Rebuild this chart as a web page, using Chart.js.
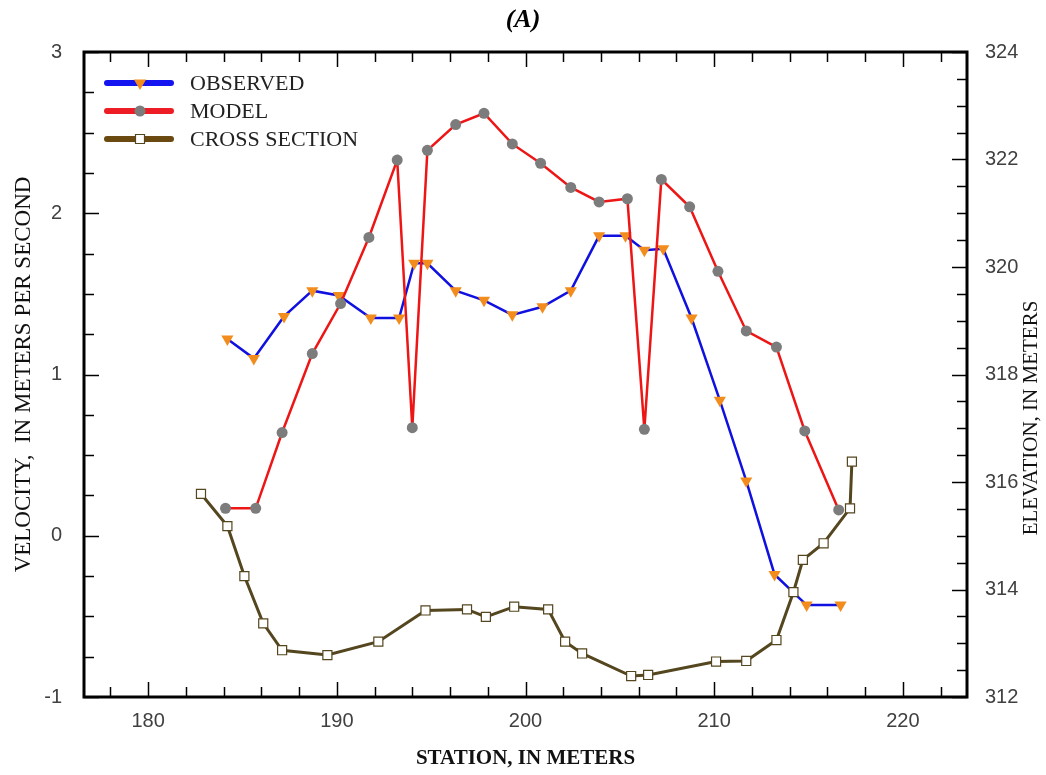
<!DOCTYPE html>
<html>
<head>
<meta charset="utf-8">
<script src="https://cdn.jsdelivr.net/npm/chart.js@4/dist/chart.umd.min.js"></script>
<style>
html, body { margin: 0; background: #fff; }
#box { width: 1046px; height: 775px; }
</style>
</head>
<body>
<div id="box"><canvas id="chartBox"></canvas></div>
<script>
// values
const obsStation = [184.2, 185.6, 187.2, 188.7, 190.1, 191.8, 193.3, 194.1, 194.8, 196.3, 197.8, 199.3, 200.9, 202.4, 203.9, 205.3, 206.3, 207.3, 208.8, 210.3, 211.7, 213.2, 214.9, 216.7]
const obsVelocity = [1.22, 1.10, 1.36, 1.52, 1.49, 1.35, 1.35, 1.69, 1.69, 1.52, 1.46, 1.37, 1.42, 1.52, 1.86, 1.86, 1.77, 1.78, 1.35, 0.84, 0.34, -0.24, -0.43, -0.43]

const modelStation = [184.1, 185.7, 187.1, 188.7, 190.2, 191.7, 193.2, 194.0, 194.8, 196.3, 197.8, 199.3, 200.8, 202.4, 203.9, 205.4, 206.3, 207.2, 208.7, 210.2, 211.7, 213.3, 214.8, 216.6]
const modelVelocity = [0.17, 0.17, 0.64, 1.13, 1.44, 1.85, 2.33, 0.67, 2.39, 2.55, 2.62, 2.43, 2.31, 2.16, 2.07, 2.09, 0.66, 2.21, 2.04, 1.64, 1.27, 1.17, 0.65, 0.16]

const xsStation = [182.8, 184.2, 185.1, 186.1, 187.1, 189.5, 192.2, 194.7, 196.9, 197.9, 199.4, 201.2, 202.1, 203.0, 205.6, 206.5, 210.1, 211.7, 213.3, 214.2, 214.7, 215.8, 217.2, 217.3]
const xsElevation = [315.78, 315.18, 314.25, 313.37, 312.87, 312.78, 313.03, 313.61, 313.63, 313.49, 313.68, 313.63, 313.03, 312.81, 312.39, 312.41, 312.66, 312.67, 313.06, 313.95, 314.55, 314.86, 315.51, 316.38]

const stationTicks = [180, 190, 200, 210, 220]
const velocityTicks = [-1, 0, 1, 2, 3]
const elevationTicks = [312, 314, 316, 318, 320, 322, 324]

const legendNames = ['OBSERVED', 'MODEL', 'CROSS SECTION']
const elevationTitle = 'ELEVATION, IN METERS'

const pairs = (xs, ys) => xs.map((x, i) => ({ x, y: ys[i] }))
const serif = "'Liberation Serif', 'Times New Roman', serif"
const sans = "'Liberation Sans', Arial, sans-serif"

const drawMarker = (ctx, kind, x, y, fill, stroke) => {
    ctx.beginPath()
    if (kind === 'tri') {
        const r = 7
        ctx.moveTo(x - r * 0.87, y - r * 0.5)
        ctx.lineTo(x + r * 0.87, y - r * 0.5)
        ctx.lineTo(x, y + r)
        ctx.closePath()
        ctx.fillStyle = fill
        ctx.fill()
    } else if (kind === 'circle') {
        ctx.arc(x, y, 5.5, 0, Math.PI * 2)
        ctx.fillStyle = fill
        ctx.fill()
    } else {
        ctx.rect(x - 4.5, y - 4.5, 9, 9)
        ctx.fillStyle = fill
        ctx.fill()
        ctx.lineWidth = 1.2
        ctx.strokeStyle = stroke
        ctx.stroke()
    }
}

// frame with inward ticks, legend inside the plot, right axis title
const frame = {
    id: 'frame',
    afterDraw(chart) {
        const { ctx, chartArea: a, scales } = chart
        ctx.save()
        ctx.strokeStyle = '#000'
        ctx.lineWidth = 1.5
        const tick = (x1, y1, x2, y2) => { ctx.beginPath(); ctx.moveTo(x1, y1); ctx.lineTo(x2, y2); ctx.stroke() }

        const sx = scales.x
        for (let v = Math.ceil(sx.min / 2) * 2; v <= sx.max; v += 2) {
            const px = Math.round(sx.getPixelForValue(v)) + 0.5
            const len = v % 10 === 0 ? 15 : 10
            tick(px, a.bottom, px, a.bottom - len)
            tick(px, a.top, px, a.top + len)
        }
        const sy = scales.y
        for (let i = 0; i <= 16; i++) {
            const v = sy.min + i * 0.25
            const py = Math.round(sy.getPixelForValue(v)) + 0.5
            tick(a.left, py, a.left + (i % 4 === 0 ? 15 : 10), py)
        }
        const sy1 = scales.y1
        for (let i = 0; i <= 24; i++) {
            const v = sy1.min + i * 0.5
            const py = Math.round(sy1.getPixelForValue(v)) + 0.5
            tick(a.right, py, a.right - (i % 4 === 0 ? 15 : 10), py)
        }
        ctx.lineWidth = 3
        ctx.strokeRect(a.left, a.top, a.right - a.left, a.bottom - a.top)

        // legend
        const ds = chart.data.datasets
        const kinds = ['tri', 'circle', 'rect']
        const legendLine = ['#1414f0', '#ee1c24', '#6b4a12']
        ds.forEach((d, i) => {
            const y = a.top + 31 + i * 28
            ctx.lineCap = 'round'
            ctx.lineWidth = 6
            ctx.strokeStyle = legendLine[i]
            tick(a.left + 23, y, a.left + 87, y)
            drawMarker(ctx, kinds[i], a.left + 56, y, d.pointBackgroundColor, d.pointBorderColor)
            ctx.fillStyle = '#222'
            ctx.font = '22px ' + serif
            ctx.textBaseline = 'middle'
            ctx.textAlign = 'left'
            ctx.fillText(legendNames[i], a.left + 106, y + 1)
        })

        // right axis title, reading bottom to top like the left one
        ctx.translate(chart.width - 15, a.top + 366)
        ctx.rotate(-Math.PI / 2)
        ctx.fillStyle = '#111'
        ctx.font = '21px ' + serif
        ctx.textAlign = 'center'
        ctx.textBaseline = 'middle'
        ctx.fillText(elevationTitle, 0, 0)
        ctx.restore()
    }
}

const context = document.querySelector('#chartBox').getContext('2d')
const chart = new Chart(context, {
    type: 'line',
    data: {
        datasets: [{
            label: legendNames[0],
            data: pairs(obsStation, obsVelocity),
            yAxisID: 'y',
            borderColor: '#1010e0',
            borderWidth: 2.5,
            pointStyle: 'triangle',
            rotation: 180,
            pointRadius: 7,
            pointBackgroundColor: '#f28c1c',
            pointBorderColor: '#f28c1c',
            pointBorderWidth: 0,
            tension: 0,
            order: 3
        }, {
            label: legendNames[1],
            data: pairs(modelStation, modelVelocity),
            yAxisID: 'y',
            borderColor: '#ee1515',
            borderWidth: 2.5,
            pointStyle: 'circle',
            pointRadius: 5.5,
            pointBackgroundColor: '#7c7c7c',
            pointBorderColor: '#7c7c7c',
            pointBorderWidth: 0,
            tension: 0,
            order: 2
        }, {
            label: legendNames[2],
            data: pairs(xsStation, xsElevation),
            yAxisID: 'y1',
            borderColor: '#54461e',
            borderWidth: 3,
            pointStyle: 'rect',
            pointRadius: 6.4,
            pointBackgroundColor: '#ffffff',
            pointBorderColor: '#54461e',
            pointBorderWidth: 1.2,
            tension: 0,
            order: 1
        }]
    },
    options: {
        responsive: true,
        maintainAspectRatio: false,
        animation: false,
        layout: { padding: 0 },
        plugins: {
            legend: { display: false },
            tooltip: { enabled: false },
            title: {
                display: true,
                text: '(A)',
                color: '#000',
                font: { family: serif, size: 26, weight: 'bold', style: 'italic' },
                padding: { top: 5, bottom: 15.8 }
            }
        },
        scales: {
            x: {
                type: 'linear',
                min: 176.6,
                max: 223.4,
                afterBuildTicks: s => { s.ticks = stationTicks.map(value => ({ value })) },
                afterFit: s => { s.height = 78 },
                grid: { display: false, drawTicks: false },
                border: { display: false },
                ticks: { color: '#404040', font: { family: sans, size: 20 }, padding: 12 },
                title: {
                    display: true,
                    text: 'STATION, IN METERS',
                    color: '#111',
                    font: { family: serif, size: 21, weight: 'bold' },
                    padding: { bottom: 4 }
                }
            },
            y: {
                position: 'left',
                min: -1,
                max: 3,
                afterBuildTicks: s => { s.ticks = velocityTicks.map(value => ({ value })) },
                afterFit: s => { s.width = 84 },
                grid: { display: false, drawTicks: false },
                border: { display: false },
                ticks: { color: '#404040', font: { family: sans, size: 20 }, padding: 22 },
                title: {
                    display: true,
                    text: 'VELOCITY,  IN METERS PER SECOND',
                    color: '#111',
                    font: { family: serif, size: 23 },
                    padding: { top: 10 }
                }
            },
            y1: {
                position: 'right',
                min: 312,
                max: 324,
                afterBuildTicks: s => { s.ticks = elevationTicks.map(value => ({ value })) },
                afterFit: s => { s.width = 79 },
                grid: { display: false, drawTicks: false },
                border: { display: false },
                ticks: { color: '#404040', font: { family: sans, size: 20 }, padding: 18 }
            }
        }
    },
    plugins: [frame]
})
</script>
</body>
</html>
